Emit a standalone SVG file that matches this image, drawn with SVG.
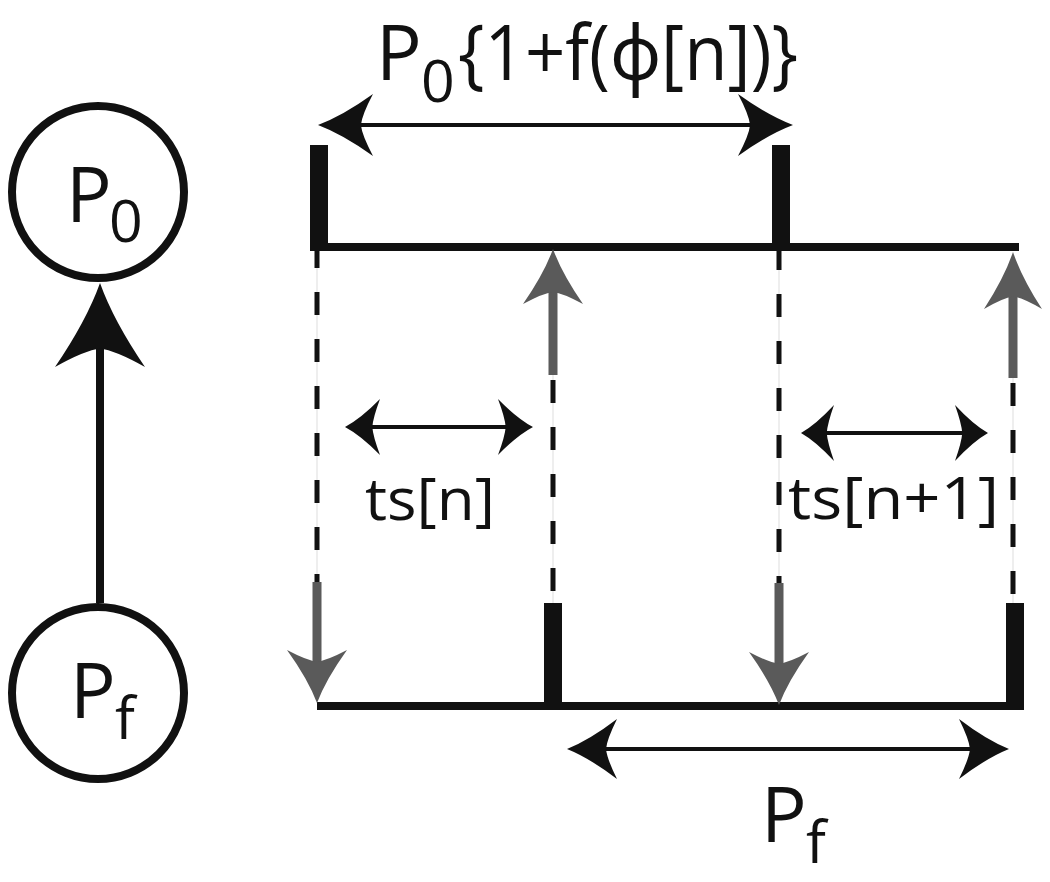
<svg xmlns="http://www.w3.org/2000/svg" xmlns:xlink="http://www.w3.org/1999/xlink" width="1050" height="882" viewBox="0 0 1050 882">
<style>
.t{font-family:"Open Sans","Noto Sans","DejaVu Sans",sans-serif;fill:#111}
.ax{stroke:#111;stroke-width:8;fill:none}
.dash{stroke:#111;stroke-width:5;stroke-dasharray:23 24;fill:none}
.faint{stroke:#ddd;stroke-width:1}
.dim{stroke:#111;stroke-width:4}
.gray{fill:#5a5a5a}
.blk{fill:#111}
</style>
<defs>
<path id="hd" d="M0,0 Q-0.45,-0.3 -1,-1 Q-0.8,-0.33 -0.78,0 Q-0.8,0.33 -1,1 Q-0.45,0.3 0,0Z"/>
</defs>
<rect width="1050" height="882" fill="#fff"/>

<g id="node-p0">
<circle cx="98" cy="192" r="86" fill="#fff" stroke="#111" stroke-width="8"/>
<text class="t" x="66" y="222" font-size="76">P</text>
<text class="t" x="109" y="242" font-size="59">0</text>
</g>
<g id="node-pf">
<circle cx="98" cy="693" r="86" fill="#fff" stroke="#111" stroke-width="8"/>
<text class="t" x="70" y="718" font-size="76">P</text>
<text class="t" x="115" y="739" font-size="59">f</text>
</g>

<g id="connectors">
<line x1="100" y1="603" x2="100" y2="340" stroke="#111" stroke-width="8"/>
<use href="#hd" class="blk" transform="translate(100,283) rotate(-90) scale(84,45)"/>
</g>

<g id="timeline">
<!-- faint guide lines -->
<line class="faint" x1="317" y1="247" x2="317" y2="582"/>
<line class="faint" x1="779" y1="247" x2="779" y2="583"/>
<line class="faint" x1="553" y1="375" x2="553" y2="603"/>
<line class="faint" x1="1013" y1="378" x2="1013" y2="603"/>
<!-- dashed verticals -->
<line class="dash" x1="317" y1="245" x2="317" y2="583"/>
<line class="dash" x1="779" y1="247" x2="779" y2="585"/>
<line class="dash" x1="553" y1="380" x2="553" y2="603"/>
<line class="dash" x1="1013" y1="383" x2="1013" y2="603"/>
<!-- axes -->
<line class="ax" x1="310" y1="247" x2="1019" y2="247"/>
<line class="ax" x1="317" y1="706" x2="1017" y2="706"/>
<!-- thick markers -->
<rect class="blk" x="310" y="145" width="18" height="106"/>
<rect class="blk" x="772" y="145" width="18" height="106"/>
<rect class="blk" x="544" y="603" width="18" height="107"/>
<rect class="blk" x="1006" y="603" width="18" height="107"/>
<!-- gray arrows -->
<rect class="gray" x="312.5" y="582" width="9" height="84"/>
<use href="#hd" class="gray" transform="translate(317,703) rotate(90) scale(53,30)"/>
<rect class="gray" x="774.5" y="583" width="9" height="84"/>
<use href="#hd" class="gray" transform="translate(779,705) rotate(90) scale(53,30)"/>
<rect class="gray" x="548.5" y="290" width="9" height="85"/>
<use href="#hd" class="gray" transform="translate(553,249) rotate(-90) scale(55,30)"/>
<rect class="gray" x="1008.5" y="293" width="9" height="85"/>
<use href="#hd" class="gray" transform="translate(1013,252) rotate(-90) scale(57,29)"/>
</g>

<g id="dim-top">
<line class="dim" x1="350" y1="125" x2="760" y2="125"/>
<use href="#hd" class="blk" transform="translate(318,125) rotate(180) scale(55,31)"/>
<use href="#hd" class="blk" transform="translate(793,125) scale(55,31)"/>
<text class="t" x="376" y="80" font-size="76">P</text>
<text class="t" x="421" y="102" font-size="59">0</text>
<text class="t" x="458" y="80" font-size="76" textLength="340" lengthAdjust="spacingAndGlyphs">{1+f(ϕ[n])}</text>
</g>

<g id="dim-ts-n">
<line class="dim" x1="365" y1="427" x2="515" y2="427"/>
<use href="#hd" class="blk" transform="translate(345,427) rotate(180) scale(35,28)"/>
<use href="#hd" class="blk" transform="translate(533,427) scale(35,28)"/>
<text class="t" x="365" y="520" font-size="58" textLength="130" lengthAdjust="spacingAndGlyphs">ts[n]</text>
</g>

<g id="dim-ts-n1">
<line class="dim" x1="820" y1="433" x2="970" y2="433"/>
<use href="#hd" class="blk" transform="translate(801,433) rotate(180) scale(33,28)"/>
<use href="#hd" class="blk" transform="translate(988,433) scale(33,28)"/>
<text class="t" x="788" y="519" font-size="58" textLength="211" lengthAdjust="spacingAndGlyphs">ts[n+1]</text>
</g>

<g id="dim-pf">
<line class="dim" x1="595" y1="749" x2="980" y2="749"/>
<use href="#hd" class="blk" transform="translate(567,749) rotate(180) scale(50,30)"/>
<use href="#hd" class="blk" transform="translate(1009,749) scale(50,30)"/>
<text class="t" x="761" y="842" font-size="76">P</text>
<text class="t" x="806" y="863" font-size="59">f</text>
</g>
</svg>
